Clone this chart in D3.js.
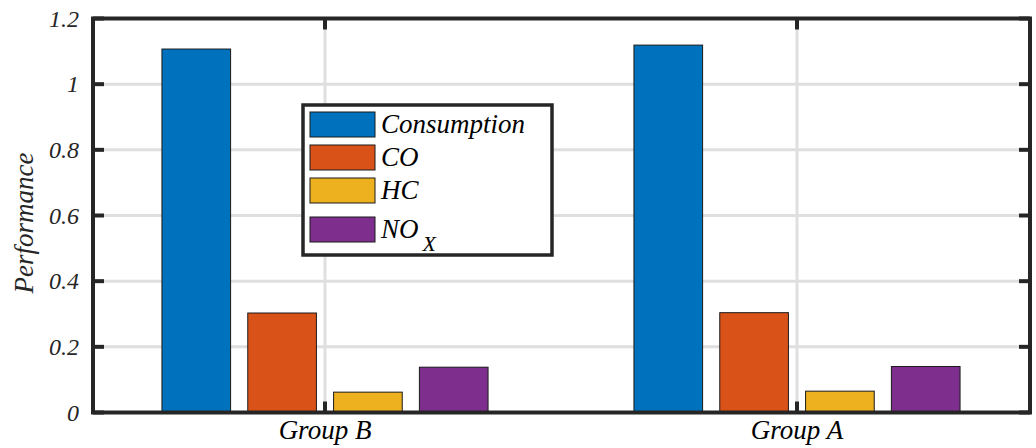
<!DOCTYPE html>
<html><head><meta charset="utf-8"><script src="https://cdn.jsdelivr.net/npm/d3@7"></script></head>
<body style="margin:0">
<svg id="s" width="1036" height="448" style="display:block"></svg>
<script>
// ---- data ----
const groups = ["Group B", "Group A"];
const seriesNames = ["Consumption", "CO", "HC", "NOX"];
const consumption = [1.107, 1.119];
const co = [0.303, 0.304];
const hc = [0.062, 0.065];
const nox = [0.138, 0.140];
const yTicks = [0, 0.2, 0.4, 0.6, 0.8, 1, 1.2];
const yTickLabels = ["0", "0.2", "0.4", "0.6", "0.8", "1", "1.2"];
const colors = ["#0072BD", "#D95319", "#EDB120", "#7E2F8E"];

const seriesValues = [consumption, co, hc, nox];

const svg = d3.select("#s");
const axisColor = "#262626";
const gridColor = "#dfdfdf";
const TXT = 'font-family: "Liberation Serif", "Tinos", "Times New Roman" !important; font-style: italic;';

// plot frame
const pLeft = 93, pRight = 1030, pTop = 18.5, pBottom = 412.5;

// x: categories at 1 and 2, limits 0.5..2.5
const x = d3.scaleLinear().domain([0.5, 2.5]).range([89, 1033]);
const y = d3.scaleLinear().domain([0, 1.2]).range([pBottom, pTop]);

const nS = seriesValues.length;
const groupWidth = Math.min(0.8, nS / (nS + 1.5));
const step = groupWidth / nS;
const barW = step * 0.8;

// grid
yTicks.slice(1, -1).forEach(v => {
  svg.append("line").attr("x1", pLeft).attr("x2", pRight)
    .attr("y1", y(v)).attr("y2", y(v))
    .attr("stroke", gridColor).attr("stroke-width", 3);
});
groups.forEach((g, i) => {
  svg.append("line").attr("x1", x(i + 1)).attr("x2", x(i + 1))
    .attr("y1", pTop).attr("y2", pBottom)
    .attr("stroke", gridColor).attr("stroke-width", 3);
});

// bars
seriesValues.forEach((vals, s) => {
  vals.forEach((v, i) => {
    svg.append("rect")
      .attr("x", x(i + 1 + (s - (nS - 1) / 2) * step - barW / 2))
      .attr("width", x(barW) - x(0))
      .attr("y", y(v))
      .attr("height", y(0) - y(v))
      .attr("fill", colors[s])
      .attr("stroke", "#1a1a1a").attr("stroke-width", 1);
  });
});

// ticks
const tlen = 11;
function tick(x1, y1, x2, y2) {
  svg.append("line").attr("x1", x1).attr("y1", y1).attr("x2", x2).attr("y2", y2)
    .attr("stroke", axisColor).attr("stroke-width", 4);
}
yTicks.forEach(v => {
  tick(pLeft, y(v), pLeft + tlen, y(v));
  tick(pRight, y(v), pRight - tlen, y(v));
});
groups.forEach((g, i) => {
  tick(x(i + 1), pBottom, x(i + 1), pBottom - tlen);
  tick(x(i + 1), pTop, x(i + 1), pTop + tlen);
});

// frame
svg.append("rect").attr("x", pLeft).attr("y", pTop)
  .attr("width", pRight - pLeft).attr("height", pBottom - pTop)
  .attr("fill", "none").attr("stroke", axisColor).attr("stroke-width", 4);

// y tick labels
yTicks.forEach((v, i) => {
  svg.append("text").attr("x", 79).attr("y", y(v) + 8)
    .attr("text-anchor", "end").attr("font-size", 24).attr("fill", axisColor)
    .attr("style", TXT)
    .text(yTickLabels[i]);
});

// x tick labels
groups.forEach((g, i) => {
  svg.append("text").attr("x", x(i + 1)).attr("y", 439)
    .attr("text-anchor", "middle").attr("font-size", 27).attr("fill", "#000")
    .attr("style", TXT)
    .text(g);
});

// y label
svg.append("text")
  .attr("transform", "translate(33,223) rotate(-90)")
  .attr("text-anchor", "middle").attr("font-size", 27).attr("fill", axisColor)
  .attr("style", TXT)
  .text("Performance");

// legend
svg.append("rect").attr("x", 303).attr("y", 105).attr("width", 249).attr("height", 150)
  .attr("fill", "#fff").attr("stroke", axisColor).attr("stroke-width", 3.5);
const rowY = [112, 145, 178, 217];
seriesNames.forEach((name, s) => {
  svg.append("rect").attr("x", 310).attr("y", rowY[s]).attr("width", 65).attr("height", 25)
    .attr("fill", colors[s]).attr("stroke", "#1a1a1a").attr("stroke-width", 1);
  const t = svg.append("text").attr("x", 381).attr("y", rowY[s] + 21)
    .attr("font-size", 27).attr("fill", "#000").attr("style", TXT);
  if (name === "NOX") {
    t.append("tspan").text("NO");
    t.append("tspan").attr("dx", 4).attr("dy", 13).attr("font-size", 22).text("X");
  } else {
    t.text(name);
  }
});
</script>
</body>
</html>
